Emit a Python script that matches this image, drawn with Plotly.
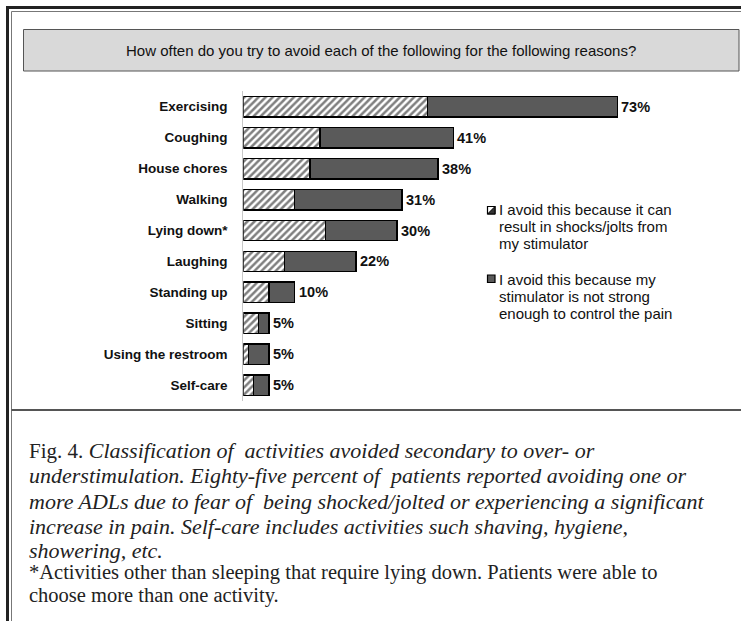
import plotly.graph_objects as go

W, H = 741, 621

categories = ["Exercising", "Coughing", "House chores", "Walking", "Lying down*",
              "Laughing", "Standing up", "Sitting", "Using the restroom", "Self-care"]
shock_jolt = [36, 15, 13, 10, 16, 8, 5, 3, 1, 2]
not_strong = [37, 26, 25, 21, 14, 14, 5, 2, 4, 3]
totals = [73, 41, 38, 31, 30, 22, 10, 5, 5, 5]
total_labels = [f"{t}%" for t in totals]

title_text = "How often do you try to avoid each of the following for the following reasons?"
legend_1 = ["I avoid this because it can", "result in shocks/jolts from", "my stimulator"]
legend_2 = ["I avoid this because my", "stimulator is not strong", "enough to control the pain"]
caption_lines = [
    "<span style='font-style:normal;font-size:21px'>Fig. 4.</span> <i>Classification of  activities avoided secondary to over- or</i>",
    "<i>understimulation. Eighty-five percent of  patients reported avoiding one or</i>",
    "<i>more ADLs due to fear of  being shocked/jolted or experiencing a significant</i>",
    "<i>increase in pain. Self-care includes activities such shaving, hygiene,</i>",
    "<i>showering, etc.</i>",
    "*Activities other than sleeping that require lying down. Patients were able to",
    "choose more than one activity.",
]
caption_sizes = [22, 22, 22, 22, 22, 20.5, 20.5]


def px(x):
    return x / W


def py(y):
    return 1 - y / H


DARK = "#5a5a5a"
SANS = "Arial, Liberation Sans, sans-serif"
SERIF = "Liberation Serif, Times New Roman, serif"

fig = go.Figure()
fig.add_trace(go.Bar(
    y=categories, x=shock_jolt, orientation="h", name=legend_1[0],
    marker=dict(color="white", line=dict(color="black", width=1.5),
                pattern=dict(shape="/", fgcolor="black", bgcolor="white", size=5, solidity=0.5)),
    showlegend=False,
))
fig.add_trace(go.Bar(
    y=categories, x=not_strong, orientation="h", name=legend_2[0],
    marker=dict(color=DARK, line=dict(color="black", width=1.5)),
    showlegend=False,
))

x0, x1 = 243.3, 735
scale = 374.0 / 73.0
fig.update_layout(
    width=W, height=H, margin=dict(l=0, r=0, t=0, b=0),
    paper_bgcolor="white", plot_bgcolor="white",
    barmode="stack", bargap=0.34,
    xaxis=dict(domain=[px(x0), px(x1)], range=[0, (x1 - x0) / scale],
               visible=False, showgrid=False, zeroline=False),
    yaxis=dict(domain=[py(400.8), py(91.2)], range=[9.5, -0.5], type="category",
               showline=True, linecolor="#c8c8c8", linewidth=1, showgrid=False,
               ticks="", ticklabelstandoff=12,
               tickfont=dict(family=SANS, size=13.5, color="#111", weight="bold")),
)

shapes = []
# outer frame (double line)
shapes.append(dict(type="line", xref="paper", yref="paper", x0=px(7.5), x1=px(741), y0=py(7.5), y1=py(7.5),
                   line=dict(color="#222", width=3)))
shapes.append(dict(type="line", xref="paper", yref="paper", x0=px(7.5), x1=px(7.5), y0=py(6), y1=py(621),
                   line=dict(color="#222", width=3)))
shapes.append(dict(type="line", xref="paper", yref="paper", x0=px(11.5), x1=px(741), y0=py(11.5), y1=py(11.5),
                   line=dict(color="#777", width=1)))
shapes.append(dict(type="line", xref="paper", yref="paper", x0=px(11.5), x1=px(11.5), y0=py(11.5), y1=py(621),
                   line=dict(color="#777", width=1)))
# separator between chart and caption
shapes.append(dict(type="line", xref="paper", yref="paper", x0=px(11.5), x1=px(741), y0=py(410), y1=py(410),
                   line=dict(color="#555", width=2)))
# title box
shapes.append(dict(type="rect", xref="paper", yref="paper", x0=px(23.5), x1=px(739), y0=py(71), y1=py(29.5),
                   fillcolor="#d9d9d9", line=dict(color="#555", width=1), layer="below"))
# legend icons
ix0, ix1 = 487.5, 495
shapes.append(dict(type="rect", xref="paper", yref="paper", x0=px(ix0), x1=px(ix1), y0=py(214), y1=py(206.5),
                   fillcolor="white", line=dict(color="black", width=1.2)))
shapes.append(dict(type="path", xref="paper", yref="paper",
                   path=f"M {px(ix0)},{py(214)} L {px(ix1)},{py(206.5)} L {px(ix1)},{py(214)} Z",
                   fillcolor="#333", line=dict(color="black", width=1)))
shapes.append(dict(type="rect", xref="paper", yref="paper", x0=px(ix0), x1=px(ix1), y0=py(282.5), y1=py(275),
                   fillcolor=DARK, line=dict(color="black", width=1.2)))

annotations = []
# value labels at the end of each stacked bar (data coordinates)
for cat, tot, lab in zip(categories, totals, total_labels):
    annotations.append(dict(text=lab, x=tot, y=cat, xref="x", yref="y", xanchor="left", yanchor="middle",
                            xshift=2, showarrow=False,
                            font=dict(family=SANS, size=14.5, color="#111", weight="bold")))
annotations.append(dict(text=title_text, xref="paper", yref="paper", x=px(381), y=py(50.5),
                        xanchor="center", yanchor="middle", showarrow=False,
                        font=dict(family=SANS, size=15, color="#111")))
for i, line in enumerate(legend_1):
    annotations.append(dict(text=line, xref="paper", yref="paper", x=px(497), y=py(209.5 + 17 * i),
                            xanchor="left", yanchor="middle", showarrow=False,
                            font=dict(family=SANS, size=15, color="#111")))
for i, line in enumerate(legend_2):
    annotations.append(dict(text=line, xref="paper", yref="paper", x=px(497), y=py(279 + 17 * i),
                            xanchor="left", yanchor="middle", showarrow=False,
                            font=dict(family=SANS, size=15, color="#111")))
cap_y = [450, 475.5, 501, 526, 550.5, 572.5, 595.5]
for line, yy, sz in zip(caption_lines, cap_y, caption_sizes):
    annotations.append(dict(text=line, xref="paper", yref="paper", x=px(27), y=py(yy),
                            xanchor="left", yanchor="middle", showarrow=False,
                            font=dict(family=SERIF, size=sz, color="#222")))

fig.update_layout(shapes=shapes, annotations=annotations)
fig.write_html("out.html", config={"displayModeBar": False},
               post_script="document.body.style.margin='0px';")
